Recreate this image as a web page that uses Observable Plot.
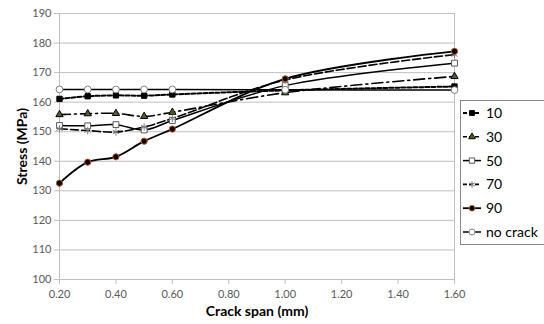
<!DOCTYPE html>
<html><head><meta charset="utf-8">
<script src="https://cdn.jsdelivr.net/npm/d3@7"></script>
<script src="https://cdn.jsdelivr.net/npm/@observablehq/plot@0.6"></script>
<style>
body{margin:0;background:#fff;}
#wrap{position:relative;width:544px;height:324px;overflow:hidden;font-family:Lato,"Open Sans",sans-serif;}
#legend{position:absolute;left:460px;top:100px;}
</style>
</head><body><div id="wrap"><div id="chart"></div><div id="legend"></div></div>
<script>
const spans = [0.2, 0.3, 0.4, 0.5, 0.6, 1.0, 1.6];
const s10  = [161.1, 162.0, 162.3, 162.2, 162.6, 164.0, 165.3];
const s30  = [155.8, 156.1, 156.2, 155.2, 156.6, 163.2, 168.7];
const s50  = [152.1, 152.0, 152.4, 150.6, 153.8, 165.6, 173.2];
const s70  = [151.0, 150.4, 149.9, 151.6, 154.5, 167.5, 176.1];
const s90  = [132.6, 139.7, 141.5, 146.8, 150.9, 167.9, 177.2];
const sNo  = [164.3, 164.3, 164.3, 164.3, 164.3, 164.2, 164.1];
const seriesNames = ["10", "30", "50", "70", "90", "no crack"];
const seriesValues = [s10, s30, s50, s70, s90, sNo];
const xTicks = [0.2, 0.4, 0.6, 0.8, 1.0, 1.2, 1.4, 1.6];
const yTicks = [100, 110, 120, 130, 140, 150, 160, 170, 180, 190];

const styles = {
  "10":       {dash: "4,2",      sw: 2,   symbol: "square",   fill: "#000", stroke: "#000",    r: 3.0},
  "30":       {dash: "11,4,2,4", sw: 1.6, symbol: "triangle", fill: "#4f6228", stroke: "#000", r: 2.7},
  "50":       {dash: null,       sw: 1.5, symbol: "square",   fill: "#fff", stroke: "#595959", r: 3.3},
  "70":       {dash: "8,3",      sw: 1.6, symbol: "asterisk", fill: "none", stroke: "#7f7f7f", r: 3.4},
  "90":       {dash: null,       sw: 1.8, symbol: "circle",   fill: "#000", stroke: "#c55a11", r: 3.1},
  "no crack": {dash: null,       sw: 1.5, symbol: "circle",   fill: "#fff", stroke: "#7f7f7f", r: 3.4}
};
const d3Symbols = {square: d3.symbolSquare, triangle: d3.symbolTriangle, circle: d3.symbolCircle, asterisk: d3.symbolAsterisk};

const rows = seriesNames.map((name, i) => spans.map((x, j) => ({name, x, y: seriesValues[i][j]})));

const lineMarks = rows.map(data => {
  const st = styles[data[0].name];
  return Plot.line(data, {x: "x", y: "y", curve: "catmull-rom", stroke: "#000", strokeWidth: st.sw, strokeDasharray: st.dash || undefined});
});
const dotMarks = rows.map(data => {
  const st = styles[data[0].name];
  return Plot.dot(data, {x: "x", y: "y", symbol: () => st.symbol, r: st.r, fill: st.fill, stroke: st.stroke, strokeWidth: 1});
});

const chart = Plot.plot({
  width: 544, height: 324,
  marginLeft: 59, marginRight: 90, marginTop: 13, marginBottom: 45,
  style: {fontFamily: "Lato, 'Open Sans', sans-serif", fontSize: "11px", color: "#595959", background: "#fff"},
  x: {domain: [0.2, 1.6]},
  y: {domain: [100, 190]},
  symbol: {type: "identity"},
  marks: [
    Plot.gridY(yTicks, {stroke: "#bfbfbf", strokeOpacity: 1}),
    Plot.ruleX([0.2, 1.6], {stroke: "#bfbfbf"}),
    Plot.axisY(yTicks, {tickSize: 5, tickPadding: 3, stroke: "#bfbfbf", fill: "#595959",
      label: "Stress (MPa)", labelAnchor: "center", labelArrow: "none", labelOffset: 42}),
    Plot.axisX(xTicks, {tickSize: 5, tickPadding: 6, stroke: "#bfbfbf", fill: "#595959", tickFormat: d3.format(".2f"),
      label: "Crack span (mm)", labelAnchor: "center", labelArrow: "none", labelOffset: 36}),
    ...lineMarks,
    ...dotMarks
  ]
});
document.getElementById("chart").append(chart);
d3.select(chart).selectAll("[aria-label='y-axis label'] text, [aria-label='x-axis label'] text")
  .style("font-size", "14px").style("font-weight", "bold").style("fill", "#000");

// legend
const lg = d3.select("#legend").append("svg").attr("width", 84).attr("height", 146);
lg.append("rect").attr("x", 0.5).attr("y", 0.5).attr("width", 90).attr("height", 144)
  .attr("fill", "#fff").attr("stroke", "#888");
seriesNames.forEach((name, i) => {
  const st = styles[name];
  const cy = 13 + i * 23.8;
  lg.append("line").attr("x1", 3).attr("x2", 21).attr("y1", cy).attr("y2", cy)
    .attr("stroke", "#000").attr("stroke-width", st.sw).attr("stroke-dasharray", st.dash ? "4,2" : null);
  lg.append("path").attr("transform", `translate(12,${cy})`)
    .attr("d", d3.symbol(d3Symbols[st.symbol], st.r * st.r * 2.6)())
    .attr("fill", st.fill).attr("stroke", st.stroke);
  lg.append("text").attr("x", 26).attr("y", cy).attr("dy", "0.35em")
    .style("font-size", "14px").style("font-family", "Lato, 'Open Sans', sans-serif").attr("fill", "#000").text(name);
});
</script>
</body></html>
